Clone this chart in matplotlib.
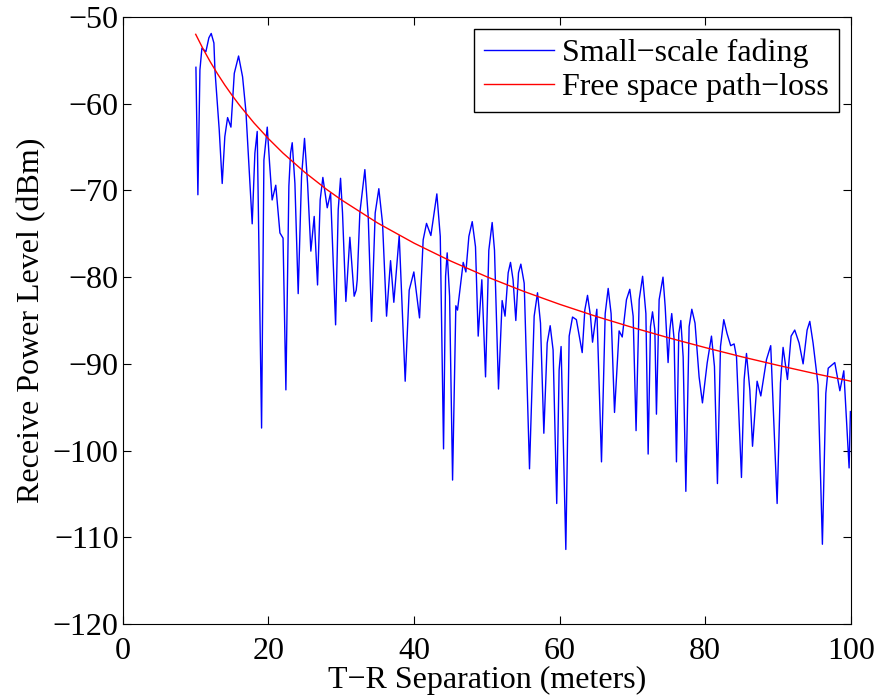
import matplotlib
matplotlib.use("Agg")
import matplotlib.pyplot as plt

# Small-scale fading trace: (distance m, power dBm)
fading_d = [10.03, 10.3, 10.58, 10.85, 11.4, 11.81, 12.13, 12.5, 12.64, 13.23,
            13.64, 14.0, 14.38, 14.84, 15.3, 15.89, 16.44, 16.9, 17.76, 18.13,
            18.45, 19.05, 19.37, 19.83, 20.15, 20.5, 21.0, 21.57, 22.0, 22.39,
            22.8, 23.03, 23.26, 23.63, 24.08, 24.54, 24.95, 25.37, 25.82, 26.28,
            26.74, 27.1, 27.47, 28.07, 28.53, 29.22, 29.58, 29.9, 30.17, 30.63,
            31.18, 31.77, 32.05, 32.19, 32.55, 33.24, 33.7, 34.16, 34.66, 35.16,
            35.67, 36.22, 36.77, 37.22, 37.96, 38.78, 39.33, 39.97, 40.75, 41.25,
            41.71, 42.31, 43.13, 43.6, 44.05, 44.33, 44.55, 44.88, 45.29, 45.74,
            45.97, 46.75, 47.12, 47.53, 47.99, 48.44, 48.81, 49.31, 49.82, 50.27,
            50.73, 51.05, 51.6, 52.1, 52.5, 52.93, 53.25, 53.6, 53.98, 54.35,
            54.67, 55.13, 55.86, 56.5, 56.96, 57.37, 57.83, 58.29, 58.7, 59.1,
            59.6, 59.93, 60.2, 60.85, 61.31, 61.77, 62.3, 63.1, 63.46, 63.83,
            64.24, 64.52, 65.11, 65.75, 66.26, 66.67, 67.07, 67.54, 68.17, 68.6,
            69.18, 69.64, 70.1, 70.5, 70.93, 71.4, 71.85, 72.16, 72.48, 72.76,
            73.08, 73.3, 73.67, 74.2, 74.5, 74.9, 75.14, 75.4, 75.73, 76.05,
            76.37, 76.65, 76.97, 77.34, 77.79, 78.16, 78.6, 79.16, 79.62, 80.27,
            80.86, 81.27, 81.68, 82.1, 82.55, 83.0, 83.5, 83.97, 84.3, 84.98,
            85.35, 85.67, 86.13, 86.5, 87.13, 87.64, 88.42, 89.0, 89.88, 90.34,
            90.7, 91.3, 91.8, 92.3, 92.9, 93.45, 94.0, 94.37, 94.82, 95.5,
            96.1, 96.57, 96.9, 97.8, 98.5, 99.04, 99.77, 99.95]
fading_p = [-55.8, -70.5, -56.1, -53.6, -54.0, -52.4, -51.9, -53.0, -56.1, -63.0,
            -69.2, -63.8, -61.6, -62.7, -56.5, -54.5, -56.9, -60.9, -73.85, -65.7,
            -63.2, -97.4, -66.5, -62.7, -66.9, -71.1, -69.4, -74.9, -75.5, -93.0,
            -69.5, -65.7, -64.5, -69.2, -81.9, -68.4, -64.0, -69.2, -77.0, -73.0,
            -80.9, -71.1, -68.5, -72.0, -70.3, -85.5, -72.2, -68.6, -72.6, -82.8,
            -75.4, -82.2, -81.5, -80.3, -72.6, -67.6, -73.0, -85.1, -72.6, -69.8,
            -73.8, -84.5, -78.1, -82.9, -75.2, -92.0, -81.5, -79.4, -84.7, -75.7,
            -73.8, -75.2, -70.4, -75.3, -99.8, -79.9, -77.2, -82.2, -103.4, -83.3,
            -83.8, -78.3, -79.4, -75.3, -73.6, -76.5, -86.8, -80.3, -91.5, -76.9,
            -73.7, -76.9, -92.9, -82.7, -84.5, -79.5, -78.3, -80.3, -85.0, -79.5,
            -78.5, -80.7, -102.1, -84.5, -81.8, -85.3, -98.0, -87.6, -85.6, -88.4,
            -106.1, -90.7, -88.0, -111.4, -86.8, -84.6, -84.9, -88.7, -83.8, -82.1,
            -84.5, -87.5, -83.7, -101.3, -84.2, -81.3, -84.2, -95.6, -86.2, -86.9,
            -82.6, -81.4, -84.5, -97.7, -82.6, -79.9, -84.2, -100.4, -85.7, -84.0,
            -86.1, -95.8, -82.6, -80.0, -83.4, -89.85, -86.1, -84.2, -87.2, -101.3,
            -86.5, -85.0, -89.2, -104.7, -85.7, -83.7, -85.3, -91.5, -94.5, -89.9,
            -86.8, -90.3, -103.8, -88.0, -84.9, -86.5, -87.9, -87.7, -89.2, -103.1,
            -91.8, -88.8, -93.0, -99.5, -92.0, -93.7, -89.5, -87.9, -106.1, -92.2,
            -88.1, -91.8, -86.8, -86.1, -87.6, -90.0, -86.1, -85.1, -87.6, -92.4,
            -110.8, -93.4, -90.5, -89.85, -93.1, -90.8, -102.0, -95.5]

# Free space path-loss curve
fspl_d = [10, 11, 12, 13, 14, 15, 16, 18, 20, 22, 25, 28, 30, 35, 40, 45, 50,
          55, 60, 65, 70, 75, 80, 85, 90, 95, 100]
fspl_p = [-52.0, -53.66, -55.17, -56.56, -57.85, -59.04, -60.16, -62.21, -64.04,
          -65.70, -67.92, -69.89, -71.08, -73.76, -76.08, -78.13, -79.96, -81.62,
          -83.13, -84.52, -85.80, -87.00, -88.12, -89.18, -90.17, -91.11, -92.0]

x_ticks = [0, 20, 40, 60, 80, 100]
y_ticks = [-120, -110, -100, -90, -80, -70, -60, -50]

plt.rcParams["font.family"] = ["Liberation Serif", "DejaVu Serif"]
plt.rcParams["font.size"] = 23

fig = plt.figure(figsize=(8.78, 6.96), dpi=100)
ax = fig.add_axes([0.140, 0.1034, 0.829, 0.8722])

ax.plot(fading_d, fading_p, color="#0000ff", lw=1.0, label="Small\u2212scale fading")
ax.plot(fspl_d, fspl_p, color="#ff0000", lw=1.0, label="Free space path\u2212loss")

ax.set_xlim(0, 100)
ax.set_ylim(-120, -50)
ax.set_xticks(x_ticks)
ax.set_yticks(y_ticks)
ax.tick_params(direction="in", length=6, width=0.8, top=True, right=True,
               labelsize=23)
ax.tick_params(axis="x", pad=9)
ax.tick_params(axis="y", pad=3)
for s in ax.spines.values():
    s.set_linewidth(0.8)

ax.set_xlabel("T\u2212R Separation (meters)", labelpad=0)
ax.set_ylabel("Receive Power Level (dBm)", labelpad=5)

leg = ax.legend(loc="upper right", fancybox=False, framealpha=1, edgecolor="black",
                handlelength=2.2, handletextpad=0.25, borderaxespad=0.38,
                borderpad=0.3, labelspacing=0.15)
leg.get_frame().set_linewidth(1.0)

fig.savefig("out.png", dpi=100)
